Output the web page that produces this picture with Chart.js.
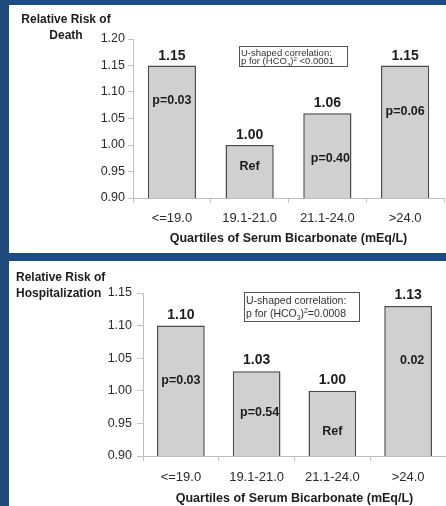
<!DOCTYPE html>
<html>
<head>
<meta charset="utf-8">
<script src="https://cdn.jsdelivr.net/npm/chart.js"></script>
<style>
  html, body { margin: 0; padding: 0; }
  body { width: 446px; height: 506px; background: #1f4a7e; position: relative; overflow: hidden; }
  .panel { position: absolute; left: 9px; width: 437px; background: #ffffff; }
  #p1 { top: 5px; height: 248px; }
  #p2 { top: 261px; height: 245px; }
  canvas { display: block; }
</style>
</head>
<body>
<div class="panel" id="p1"><canvas id="death" width="437" height="248"></canvas></div>
<div class="panel" id="p2"><canvas id="hosp" width="437" height="245"></canvas></div>
<script>
// data
const categories = ['<=19.0', '19.1-21.0', '21.1-24.0', '>24.0'];
const deathRisk = [1.15, 1.00, 1.06, 1.15];
const deathNotes = ['p=0.03', 'Ref', 'p=0.40', 'p=0.06'];
const deathRange = [0.90, 1.20];
const hospRisk = [1.10, 1.03, 1.00, 1.13];
const hospNotes = ['p=0.03', 'p=0.54', 'Ref', '0.02'];
const hospRange = [0.90, 1.15];
const tickStep = 0.05;
const xTitle = 'Quartiles of Serum Bicarbonate (mEq/L)';

const FONT = '"Liberation Sans", Arial, sans-serif';

// draws value labels, in-bar notes, the boxed note and the y title
const labelPlugin = {
    id: 'barLabels',
    afterDatasetsDraw(chart, args, opts) {
        const ctx = chart.ctx;
        const meta = chart.getDatasetMeta(0);
        const xs = chart.scales.x, ys = chart.scales.y;
        const values = chart.data.datasets[0].data;
        ctx.save();
        ctx.fillStyle = '#1c1c1c';
        ctx.textAlign = 'center';
        ctx.textBaseline = 'alphabetic';
        ctx.font = 'bold 14px ' + FONT;
        meta.data.forEach((bar, i) => {
            ctx.fillText(values[i].toFixed(2), bar.x, bar.y - opts.valueGap);
        });

        ctx.font = 'bold 12.5px ' + FONT;
        ctx.textBaseline = 'middle';
        opts.notes.forEach((t, i) => {
            const p = opts.notePos[i];
            ctx.fillText(t, meta.data[i].x + p.dx, ys.getPixelForValue(p.y));
        });

        // boxed correlation note
        const b = opts.box;
        const l = xs.getPixelForValue(b.x0), r = xs.getPixelForValue(b.x1);
        const t = ys.getPixelForValue(b.y0), bt = ys.getPixelForValue(b.y1);
        ctx.fillStyle = '#ffffff';
        ctx.fillRect(l, t, r - l, bt - t);
        ctx.strokeStyle = '#555';
        ctx.lineWidth = 1;
        ctx.strokeRect(Math.round(l) + 0.5, Math.round(t) + 0.5, Math.round(r - l), Math.round(bt - t));
        ctx.fillStyle = '#333';
        ctx.textAlign = 'left';
        ctx.textBaseline = 'alphabetic';
        const fs = b.size;
        ctx.font = fs + 'px ' + FONT;
        const tx = l + 2;
        const y1 = t + b.line1, y2 = t + b.line2;
        ctx.fillText('U-shaped correlation:', tx, y1);
        let cx = tx;
        const part = (s, dy, size) => {
            ctx.font = size + 'px ' + FONT;
            ctx.fillText(s, cx, y2 + dy);
            cx += ctx.measureText(s).width;
        };
        part('p for (HCO', 0, fs);
        part('3', fs * 0.3, fs * 0.65);
        part(')', 0, fs);
        part('2', -fs * 0.4, fs * 0.65);
        part(b.tail, 0, fs);

        // y axis title in the top left corner
        ctx.fillStyle = '#1c1c1c';
        ctx.font = 'bold 12px ' + FONT;
        ctx.textAlign = opts.yTitle.align;
        opts.yTitle.lines.forEach((s, i) => {
            ctx.fillText(s, opts.yTitle.x, opts.yTitle.y + i * opts.yTitle.gap);
        });
        ctx.restore();
    }
};

function makeChart(id, values, range, barPct, lay, plug) {
    return new Chart(document.getElementById(id), {
        type: 'bar',
        data: {
            labels: categories,
            datasets: [{
                data: values,
                backgroundColor: '#d0d0d0',
                borderColor: '#4a4a4a',
                borderWidth: 1.5,
                categoryPercentage: 1,
                barPercentage: barPct,
                borderSkipped: 'bottom'
            }]
        },
        options: {
            responsive: false,
            animation: false,
            events: [],
            layout: { padding: { top: lay.top, right: lay.right, left: 0, bottom: 0 } },
            plugins: {
                legend: { display: false },
                tooltip: { enabled: false },
                barLabels: plug
            },
            scales: {
                x: {
                    afterFit: (s) => { s.height = lay.xHeight; },
                    grid: { drawOnChartArea: false, drawTicks: true, tickLength: 5, color: '#c4c4c4' },
                    border: { color: '#bdbdbd', width: 1 },
                    ticks: { color: '#2a2a2a', padding: lay.xPad, font: { family: FONT, size: 13 } },
                    title: {
                        display: true, text: xTitle, color: '#1c1c1c',
                        font: { family: FONT, size: 12.5, weight: 'bold' },
                        padding: { top: 0, bottom: lay.titlePad }
                    }
                },
                y: {
                    min: range[0], max: range[1],
                    afterFit: (s) => { s.width = lay.yWidth; },
                    grid: { drawOnChartArea: false, drawTicks: true, tickLength: lay.tickLen, color: '#c4c4c4' },
                    border: { color: '#bdbdbd', width: 1 },
                    ticks: {
                        stepSize: tickStep, color: '#2a2a2a', padding: lay.tickPad,
                        font: { family: FONT, size: 12.5 },
                        callback: (v) => Number(v).toFixed(2)
                    }
                }
            }
        },
        plugins: [labelPlugin]
    });
}

makeChart('death', deathRisk, deathRange, 0.62,
    { top: 34, right: 2, xHeight: 55, yWidth: 124, titlePad: 7, xPad: 8, tickLen: 5, tickPad: 3 },
    {
        valueGap: 6,
        notes: deathNotes,
        notePos: [{ y: 1.083, dx: 0 }, { y: 0.960, dx: 0 }, { y: 0.975, dx: 3 }, { y: 1.064, dx: 0 }],
        box: { x0: 0.863, x1: 2.252, y0: 1.187, y1: 1.149, size: 9.5, line1: 10, line2: 18.5, tail: ' <0.0001' },
        yTitle: { lines: ['Relative Risk of', 'Death'], align: 'center', x: 57, y: 18, gap: 16 }
    });

makeChart('hosp', hospRisk, hospRange, 0.63,
    { top: 32, right: 0, xHeight: 50, yWidth: 134, titlePad: 0, xPad: 9, tickLen: 6, tickPad: 5 },
    {
        valueGap: 7,
        notes: hospNotes,
        notePos: [{ y: 1.015, dx: 0 }, { y: 0.966, dx: 3 }, { y: 0.937, dx: 0 }, { y: 1.046, dx: 4 }],
        box: { x0: 0.833, x1: 2.35, y0: 1.1515, y1: 1.107, size: 10.5, line1: 12, line2: 25, tail: '=0.0008' },
        yTitle: { lines: ['Relative Risk of', 'Hospitalization'], align: 'left', x: 7, y: 20, gap: 16 }
    });
</script>
</body>
</html>
